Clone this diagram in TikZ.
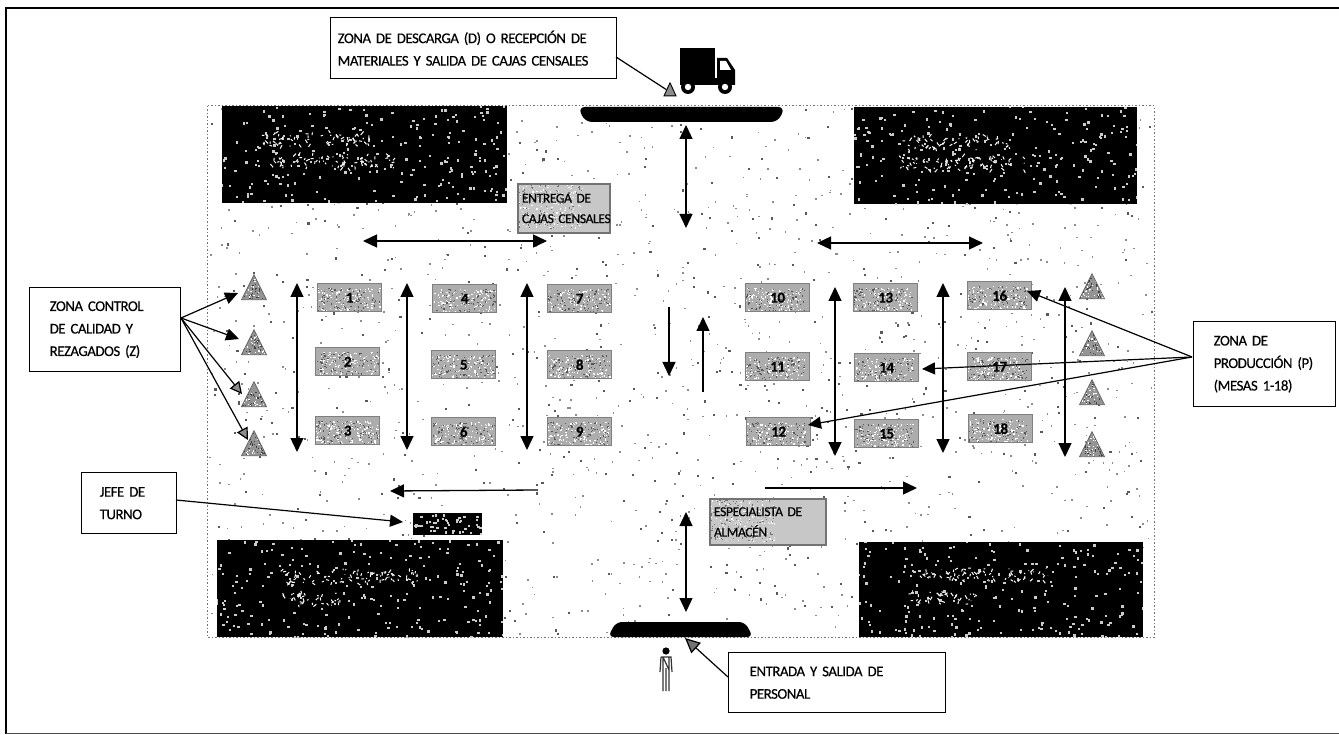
\documentclass[tikz,border=0pt]{standalone}
\usepackage{fontspec}
\setmainfont{Carlito}[FakeBold=0.35,LetterSpace=-3]
\usetikzlibrary{arrows.meta,shapes.geometric}
\newcommand\rsspeck[7]{\foreach \k in {1,...,#5}{\pgfmathsetmacro\sx{#1+rnd*(#3-#1)}\pgfmathsetmacro\sy{#2+rnd*(#4-#2)}\fill[#6] (\sx,\sy) rectangle ++(#7,#7);}}
\newcommand\rssmudge[4]{\foreach \k in {1,...,#3}{\pgfmathsetmacro\sx{#1+rnd*#4}\pgfmathsetmacro\sy{#2+rnd*13}\pgfmathsetmacro\dx{rnd*6-3}\pgfmathsetmacro\dy{rnd*7-3.5}\draw[white,line width=1pt] (\sx,\sy) -- ++(\dx,\dy);}}
\tikzset{
 x=1pt,y=-1pt,
 txt/.style={font=\fontsize{14.8}{22.5}\selectfont,text=black},
 callout/.style={txt,draw=black,line width=1.4pt,fill=white,anchor=north west,align=left,inner xsep=#1,inner ysep=0pt},
 graybox/.style={font=\fontsize{13.6}{20.5}\selectfont,text=black,draw=black!55,line width=2pt,fill=black!22,anchor=north west,align=left,inner xsep=4pt,inner ysep=0pt,
   path picture={\rsspeck{-60}{-25}{60}{25}{320}{white}{1.2}\rsspeck{-60}{-25}{60}{25}{240}{black!55}{1.2}}},
 tablebox/.style={draw=black!50,line width=1.4pt,fill=black!32,anchor=north west,minimum width=64pt,minimum height=28pt,inner sep=0pt,
   font=\fontsize{15}{16}\selectfont\bfseries,
   path picture={\rsspeck{-34}{-15}{34}{15}{150}{white}{1.3}\rsspeck{-34}{-15}{34}{15}{110}{black!65}{1.2}}},
 darkbox/.style={draw=none,fill=black,anchor=north west,inner sep=0pt,
   path picture={\rsspeck{-150}{-52}{150}{52}{#1}{white!80!black}{2.3}}},
 cone/.style={isosceles triangle,isosceles triangle apex angle=55,isosceles triangle stretches,shape border rotate=90,
   minimum width=25pt,minimum height=25pt,inner sep=0pt,draw=black!60,line width=0.7pt,fill=black!42,
   path picture={\rsspeck{-14}{-16}{14}{14}{60}{white}{1.2}\rsspeck{-14}{-16}{14}{14}{60}{black!75}{1.2}}},
 marker/.style={isosceles triangle,isosceles triangle apex angle=55,isosceles triangle stretches,shape border rotate=90,
   minimum width=12pt,minimum height=13pt,inner sep=0pt,draw=black,line width=0.9pt,fill=black!45},
 link/.style={draw=black,line width=1.2pt,-{Triangle[length=13pt,width=12pt]}},
 hollowlink/.style={draw=black,line width=1.2pt,-{Triangle[length=12pt,width=12pt,fill=black!45]}},
 flow/.style={draw=black,line width=1.3pt,-{Triangle[length=14pt,width=13pt]}},
 both/.style={draw=black,line width=1.3pt,{Triangle[length=14pt,width=13pt]}-{Triangle[length=14pt,width=13pt]}},
}
\begin{document}
\begin{tikzpicture}
\useasboundingbox (0,0) rectangle (1339,735);
\pgfmathsetseed{4217}
% outer frame (open on the right)
\draw[black,line width=2.5pt] (1339,8) -- (6,8) -- (6,733.5);
\draw[black!70,line width=1.2pt] (6,733.5) -- (1339,733.5);
% floor
\draw[black!55,line width=1pt,dash pattern=on 1.5pt off 2pt] (207,106) rectangle (1154,637);
\rsspeck{209}{108}{1152}{635}{1100}{black!45}{1.6}
\rsspeck{209}{108}{1152}{635}{500}{black!65}{2.1}
% dark rooms
\node[darkbox=240,minimum width=285pt,minimum height=97pt] (roomA) at (222,106) {};
\node[darkbox=240,minimum width=283pt,minimum height=97pt] (roomB) at (854,107) {};
\node[darkbox=240,minimum width=286pt,minimum height=97pt] (roomC) at (217,540) {};
\node[darkbox=240,minimum width=284pt,minimum height=95pt] (roomD) at (859,542) {};
\node[darkbox=1,minimum width=69pt,minimum height=22pt] (jefeBox) at (413,513) {};
\rsspeck{414}{514}{480}{533}{45}{white!80!black}{2.2}
\rssmudge{262}{133}{65}{112}\rssmudge{270}{155}{75}{125}
\rssmudge{905}{136}{62}{105}\rssmudge{900}{157}{75}{125}
\rssmudge{280}{570}{80}{140}\rssmudge{283}{593}{35}{57}
\rssmudge{918}{568}{75}{130}\rssmudge{910}{591}{38}{65}
% doors
\fill[black,rounded corners=7pt] (578,107) -- (585,122) -- (778,122) -- (785,107) -- cycle;
\fill[black,rounded corners=6pt] (608,637) -- (616,622) -- (745,622) -- (753,637) -- cycle;
% tables
\node[tablebox] (t1) at (317,283) {1};
\node[tablebox] (t2) at (315,347) {2};
\node[tablebox] (t3) at (315,416) {3};
\node[tablebox] (t4) at (432,284) {4};
\node[tablebox] (t5) at (431,350) {5};
\node[tablebox] (t6) at (431,417) {6};
\node[tablebox] (t7) at (547,284) {7};
\node[tablebox] (t8) at (547,350) {8};
\node[tablebox] (t9) at (547,417) {9};
\node[tablebox] (t10) at (745,283) {10};
\node[tablebox] (t11) at (745,352) {11};
\node[tablebox] (t12) at (746,417) {12};
\node[tablebox] (t13) at (853,283) {13};
\node[tablebox] (t14) at (854,353) {14};
\node[tablebox] (t15) at (854,419) {15};
\node[tablebox] (t16) at (967,281) {16};
\node[tablebox] (t17) at (967,352) {17};
\node[tablebox] (t18) at (968,414) {18};
% cones
\foreach \n/\px/\py in {zA/254/292,zB/254/347,zC/254/399,zD/254/448,pA/1092/291,pB/1092/348,pC/1092/397,pD/1092/449}
  \node[cone] (\n) at (\px,\py) {};
% gray labels
\node[graybox,text width=84pt,minimum height=49pt] (entrega) at (517,183) {\mbox{ENTREGA DE}\\\mbox{CAJAS CENSALES}};
\node[graybox,text width=108pt,minimum height=46pt] (especialista) at (709,498) {\mbox{ESPECIALISTA DE}\\\mbox{ALMACÉN}};
% callouts
\node[callout=7pt,text width=272pt,minimum height=61pt] (zonaD) at (330,17) {ZONA DE DESCARGA (D) O RECEPCIÓN DE\\MATERIALES Y SALIDA DE CAJAS CENSALES};
\node[callout=20pt,text width=111pt,minimum height=84pt] (zonaZ) at (29,287) {ZONA CONTROL\\DE CALIDAD Y\\REZAGADOS (Z)};
\node[callout=18pt,text width=59pt,minimum height=61pt] (jefe) at (81,472) {JEFE DE\\TURNO};
\node[callout=20pt,text width=102pt,minimum height=85pt] (zonaP) at (1193,321) {ZONA DE\\\mbox{PRODUCCIÓN (P)}\\(MESAS 1-18)};
\node[callout=21pt,text width=175pt,minimum height=60pt] (entrada) at (728,652) {ENTRADA Y SALIDA DE\\PERSONAL};
% truck
\fill[black] (680,48) rectangle (715,78);
\fill[black] (717,58) -- (727,58) -- (735,70) -- (735,85) -- (717,85) -- cycle;
\fill[white] (720,61) -- (726,61) -- (731,70) -- (720,70) -- cycle;
\fill[black] (680,78) rectangle (735,85);
\fill[black] (688,87) circle (7);
\fill[black] (725,87) circle (7);
\fill[white] (688,87) circle (3.2);
\fill[white] (725,87) circle (3.2);
% person
\fill[black] (666,651) circle (3.6);
\draw[black!80,line width=1.2pt] (661,657) -- (671,657) -- (672,672) (661,657) -- (660,672)
  (663,657) -- (663,691) (669,657) -- (669,691) (666,668) -- (666,691) (663,657) -- (669,670);
% markers at the doors
\node[marker] (markD) at (670,92) {};
% free ends
\coordinate (zEndA) at (238,293);
\coordinate (zEndB) at (239,339);
\coordinate (zEndC) at (242,394);
\coordinate (zEndD) at (248,440);
\coordinate (zStart) at (181,318);
\coordinate (pStart) at (1192,357);
\coordinate (pEndA) at (1027,291);
\coordinate (pEndB) at (922,369);
\coordinate (pEndC) at (808,425);
\coordinate (jStart) at (176,500);
\coordinate (jEnd) at (403,522);
\coordinate (dStart) at (616,57);
\coordinate (eStart) at (728,677);
\coordinate (eEnd) at (685,638);
% connectors
\draw[link] (zStart) -- (zEndA);
\draw[link] (zStart) -- (zEndB);
\draw[hollowlink] (zStart) -- (zEndC);
\draw[hollowlink] (zStart) -- (zEndD);
\draw[link] (pStart) -- (pEndA);
\draw[link] (pStart) -- (pEndB);
\draw[link] (pStart) -- (pEndC);
\draw[link] (jStart) -- (jEnd);
\draw[draw=black,line width=1.2pt] (dStart) -- (markD);
\draw[draw=black,line width=1.2pt,-{Triangle[length=15pt,width=14pt,fill=black!55]}] (eStart) -- (eEnd);
% circulation arrows
\foreach \n/\ax/\ay/\bx/\by in {a/686/125/686/228,b/686/512/686/612,c/297/283/297/452,d/407/283/407/450,e/527/283/527/450,f/835/287/835/456,g/943/283/943/453,h/1065/287/1065/457,i/363/241/547/241,j/817/243/983/243}{
  \coordinate (both\n A) at (\ax,\ay);
  \coordinate (both\n B) at (\bx,\by);
  \draw[both] (both\n A) -- (both\n B);
}
\foreach \n/\ax/\ay/\bx/\by in {k/669/307/669/376,l/703/392/703/317,m/538/490/390/491,n/765/488/917/488}{
  \coordinate (flow\n A) at (\ax,\ay);
  \coordinate (flow\n B) at (\bx,\by);
  \draw[flow] (flow\n A) -- (flow\n B);
}
\end{tikzpicture}
\end{document}
